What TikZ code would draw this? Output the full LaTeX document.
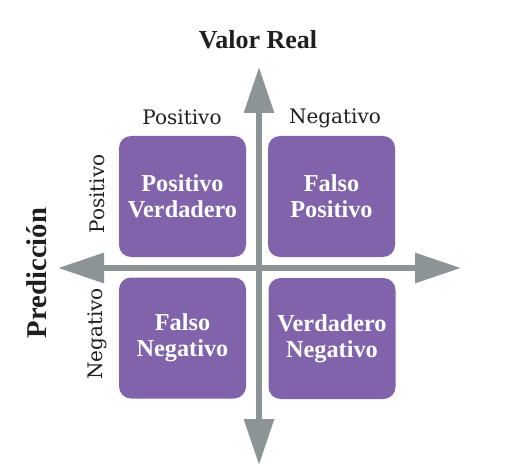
\documentclass[tikz,border=0pt]{standalone}
\usepackage{fontspec}
\setmainfont{Liberation Serif}
\newfontfamily\labelfont{DejaVu Serif}
\usetikzlibrary{arrows.meta}
\definecolor{cellpurple}{HTML}{8063AA}
\definecolor{axisgray}{HTML}{8C9496}
\begin{document}
\begin{tikzpicture}[x=0.75pt,y=-0.75pt,
  cell/.style={fill=cellpurple, draw=none, rounded corners=9pt,
    minimum width=95.25pt, minimum height=90.75pt, inner sep=0pt,
    text=white, align=center,
    font=\bfseries\fontsize{18.2}{19.5}\selectfont},
  axis/.style={draw=axisgray, line width=4.5pt,
    {Triangle[length=34.5pt,width=21.75pt]}-{Triangle[length=34.5pt,width=21.75pt]}},
  lab/.style={inner sep=0pt, font=\labelfont\fontsize{15}{18}\selectfont, text=black!88},
  title/.style={inner sep=0pt, font=\bfseries\fontsize{19.5}{22}\selectfont, text=black!88}
]
\useasboundingbox (0,0) rectangle (524,470);

% quadrants
\node[cell] (tp) at (182.5,196.5) {Positivo\\Verdadero};
\node[cell] (fp) at (331.5,196.5) {Falso\\Positivo};
\node[cell] (fn) at (182.5,338) {Falso\\Negativo};
\node[cell] (tn) at (332,338.5) {Verdadero\\Negativo};

% axes
\coordinate (top) at (259,67);
\coordinate (bottom) at (259,465);
\coordinate (left) at (58,268);
\coordinate (right) at (461,268);
\draw[axis] (bottom) -- (top);
\draw[axis] (left) -- (right);

% headings
\node[title] (real) at (258,40) {Valor Real};
\node[title, rotate=90, font=\bfseries\fontsize{21.5}{24}\selectfont] (pred) at (37,273) {Predicción};

% class labels
\node[lab] (colpos) at (182,117) {Positivo};
\node[lab] (colneg) at (335,118) {Negativo};
\node[lab, rotate=90] (rowpos) at (97,194) {Positivo};
\node[lab, rotate=90] (rowneg) at (97,334) {Negativo};
\end{tikzpicture}
\end{document}
